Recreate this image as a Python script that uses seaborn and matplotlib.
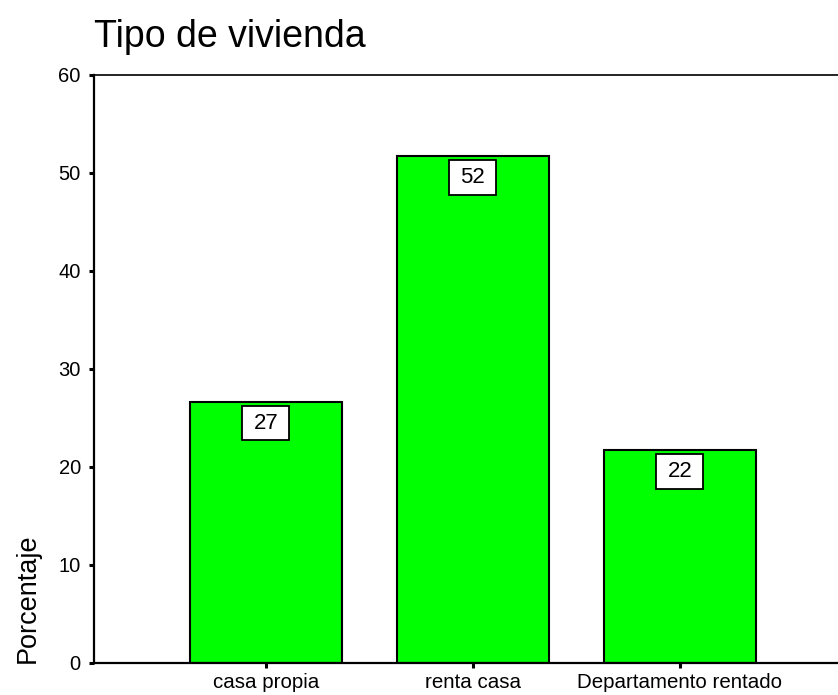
import matplotlib
matplotlib.use("Agg")
import matplotlib.pyplot as plt
import seaborn as sns
import pandas as pd

# datos del grafico
categorias = ["casa propia", "renta casa", "Departamento rentado"]
porcentajes = [26.6, 51.7, 21.7]
y_ticks = [0, 10, 20, 30, 40, 50, 60]

sns.set_style("white")
plt.rcParams['font.family'] = ['Liberation Sans', 'DejaVu Sans']
plt.rcParams['text.color'] = 'black'
plt.rcParams['axes.labelcolor'] = 'black'
plt.rcParams['xtick.color'] = 'black'
plt.rcParams['ytick.color'] = 'black'

df = pd.DataFrame({'tipo': categorias, 'pct': porcentajes})

fig = plt.figure(figsize=(8.38, 6.95), dpi=100)
ax = fig.add_axes([94/838, 32/695, 0.904, 588/695])

sns.barplot(data=df, x='tipo', y='pct', color='#00ff00', saturation=1,
            edgecolor='black', linewidth=1.5, width=0.735, ax=ax)

# etiquetas de valor en cajas blancas
for i, v in enumerate(porcentajes):
    ax.annotate(f"{v:.0f}", xy=(i, v), xytext=(0, -21), textcoords='offset pixels',
                ha='center', va='center', fontsize=16, color='black',
                bbox=dict(boxstyle='square,pad=0.5', mutation_aspect=0.6,
                          facecolor='white', edgecolor='black', linewidth=1.3))

ax.set_xlim(-0.83, 2.83)
ax.set_ylim(0, 60)
ax.set_yticks(y_ticks)
ax.tick_params(axis='both', direction='out', length=3.5, width=2.2,
               color='black', labelcolor='black', labelsize=14.5,
               left=True, bottom=True)
ax.tick_params(axis='x', labelsize=14.8, pad=4)
ax.tick_params(axis='y', pad=6)

ax.set_xlabel('')
ax.set_ylabel('Porcentaje', fontsize=19.5, loc='bottom', labelpad=13)
ax.set_title('Tipo de vivienda', fontsize=27, loc='left', pad=20, x=0,
             color='black')

for s in ['left', 'bottom']:
    ax.spines[s].set_color('black')
    ax.spines[s].set_linewidth(1.6)
ax.spines['top'].set_color('black')
ax.spines['top'].set_linewidth(1.2)
ax.spines['right'].set_visible(False)

fig.savefig('out.png', dpi=100)
